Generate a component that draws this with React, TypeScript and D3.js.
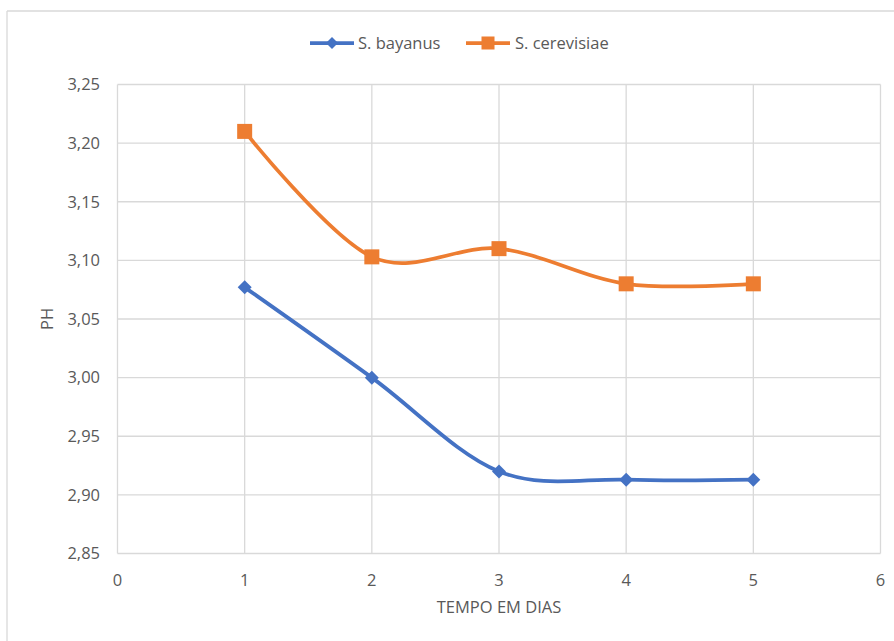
import React from "react";
import * as d3 from "d3";

const days = [1, 2, 3, 4, 5];
const bayanus = [3.077, 3.0, 2.92, 2.913, 2.913];
const cerevisiae = [3.21, 3.103, 3.11, 3.08, 3.08];
const xTicks = [0, 1, 2, 3, 4, 5, 6];
const yTicks = [2.85, 2.9, 2.95, 3.0, 3.05, 3.1, 3.15, 3.2, 3.25];
const seriesNames = ["S. bayanus", "S. cerevisiae"];

const W = 894;
const H = 641;
const FONT = "'Open Sans', 'Noto Sans', sans-serif";
const FS = 16.5;
const TXT = "#595959";
const GRID = "#D9D9D9";
const BLUE = "#4472C4";
const ORANGE = "#ED7D31";

export default function App() {
  const x = d3.scaleLinear().domain([0, 6]).range([117.5, 880.5]);
  const y = d3.scaleLinear().domain([2.85, 3.25]).range([553.5, 84.5]);
  const line = d3
    .line<number>()
    .x((_, i) => x(days[i]))
    .y((d) => y(d))
    .curve(d3.curveCatmullRom.alpha(0));
  const fmt = (v: number) => v.toFixed(2).replace(".", ",");
  const diamond = (cx: number, cy: number, r: number) =>
    `M${cx},${cy - r}L${cx + r},${cy}L${cx},${cy + r}L${cx - r},${cy}Z`;

  return (
    <svg
      width={W}
      height={H}
      style={{ position: "absolute", left: 0, top: 0, background: "#fff" }}
      fontFamily={FONT}
    >
      <rect x={0} y={0} width={W} height={H} fill="#fff" />
      {/* chart border */}
      <line x1={7} y1={11} x2={W} y2={11} stroke={GRID} strokeWidth={1.3} />
      <line x1={7} y1={11} x2={7} y2={H} stroke={GRID} strokeWidth={1.3} />

      {/* grid */}
      {yTicks.map((t) => (
        <line key={"gy" + t} x1={x(0)} x2={x(6)} y1={y(t)} y2={y(t)} stroke={GRID} strokeWidth={1.3} />
      ))}
      {xTicks.map((t) => (
        <line key={"gx" + t} x1={x(t)} x2={x(t)} y1={y(3.25)} y2={y(2.85)} stroke={GRID} strokeWidth={1.3} />
      ))}

      {/* tick labels */}
      {yTicks.map((t) => (
        <text key={"ty" + t} x={100} y={y(t)} dy="0.35em" textAnchor="end" fontSize={FS} fill={TXT}>
          {fmt(t)}
        </text>
      ))}
      {xTicks.map((t) => (
        <text key={"tx" + t} x={x(t)} y={580} dy="0.35em" textAnchor="middle" fontSize={FS} fill={TXT}>
          {t}
        </text>
      ))}

      {/* axis titles */}
      <text x={499} y={607} dy="0.35em" textAnchor="middle" fontSize={FS} fill={TXT}>
        TEMPO EM DIAS
      </text>
      <text
        transform={`translate(47,${(y(3.25) + y(2.85)) / 2}) rotate(-90)`}
        dy="0.35em"
        textAnchor="middle"
        fontSize={FS}
        fill={TXT}
      >
        PH
      </text>

      {/* series */}
      <path d={line(cerevisiae) || ""} fill="none" stroke={ORANGE} strokeWidth={3.75} strokeLinejoin="round" />
      <path d={line(bayanus) || ""} fill="none" stroke={BLUE} strokeWidth={3.75} strokeLinejoin="round" />
      {cerevisiae.map((v, i) => (
        <rect key={"mo" + i} x={x(days[i]) - 7.5} y={y(v) - 7.5} width={15} height={15} fill={ORANGE} />
      ))}
      {bayanus.map((v, i) => (
        <path key={"mb" + i} d={diamond(x(days[i]), y(v), 7)} fill={BLUE} />
      ))}

      {/* legend */}
      <line x1={310} x2={354} y1={43} y2={43} stroke={BLUE} strokeWidth={3.75} />
      <path d={diamond(332, 43, 6)} fill={BLUE} />
      <text x={358} y={43} dy="0.35em" fontSize={FS} fill={TXT}>
        {seriesNames[0]}
      </text>
      <line x1={466} x2={510} y1={43} y2={43} stroke={ORANGE} strokeWidth={3.75} />
      <rect x={481.5} y={36.5} width={13} height={13} fill={ORANGE} />
      <text x={515} y={43} dy="0.35em" fontSize={FS} fill={TXT}>
        {seriesNames[1]}
      </text>
    </svg>
  );
}
